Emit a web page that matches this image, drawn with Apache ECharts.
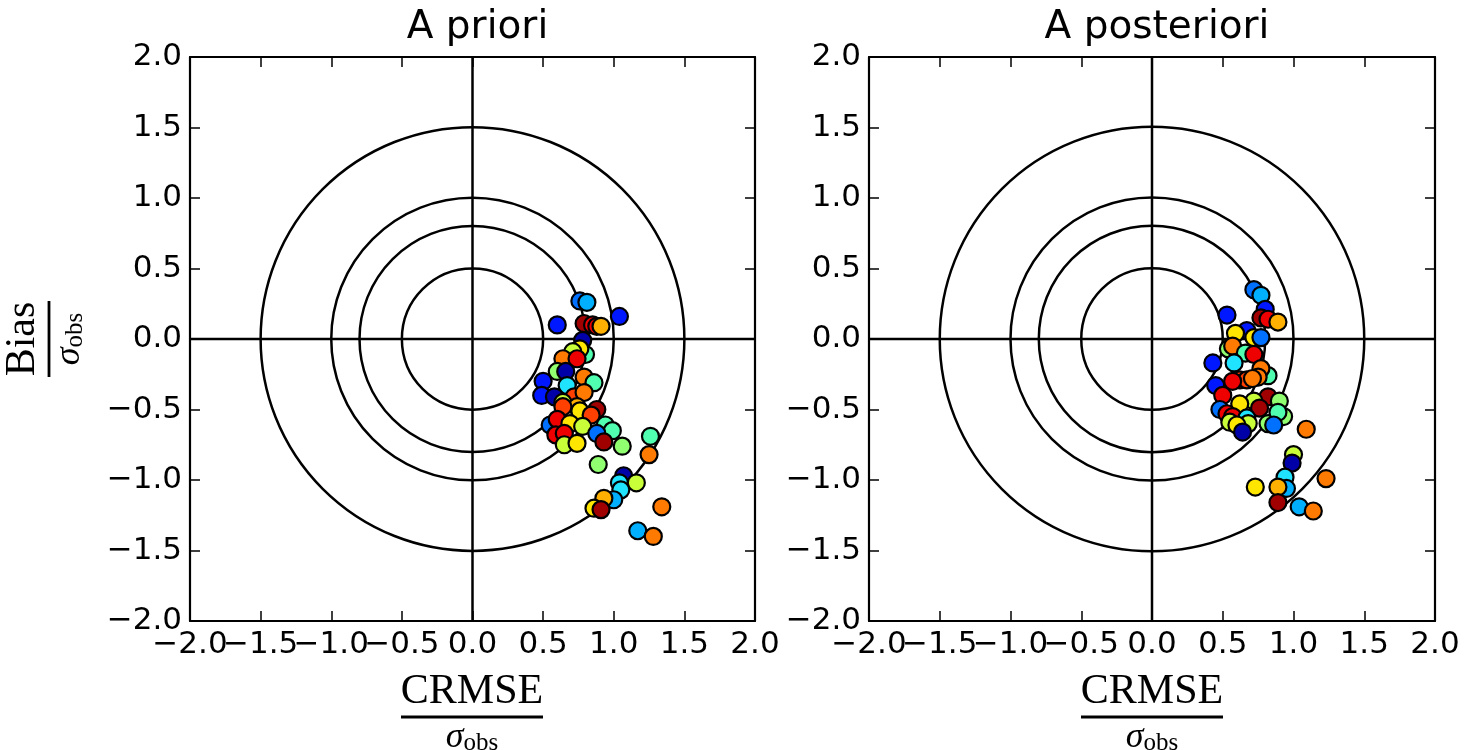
<!DOCTYPE html>
<html>
<head>
<meta charset="utf-8">
<script src="https://cdn.jsdelivr.net/npm/echarts@6/dist/echarts.min.js"></script>
<style>
  html, body { margin: 0; padding: 0; background: #fff; }
  #main { width: 1464px; height: 750px; }
</style>
</head>
<body>
<div id="main"></div>
<script>
// panel titles
var panelTitles = ['A priori', 'A posteriori'];
// axis ticks
var tickMin = -2, tickMax = 2, tickStep = 0.5;
// reference circles (radius in units of sigma_obs)
var circleRadii = [0.5, 0.8, 1.0, 1.5];
// jet-like colours used by the markers
var markerColors = ['#0000a8', '#0018ff', '#0070ff', '#00b0ff', '#20e4ff', '#50ffb0', '#90ff70',
  '#c8ff38', '#ffe600', '#ffb000', '#ff7a00', '#ff4000', '#ee0000', '#a00000'];

// [CRMSE/sigma, Bias/sigma, colour index]
var prioriPoints = [
  [0.60, 0.10, 1], [0.76, 0.27, 2], [0.81, 0.26, 3], [1.04, 0.16, 1],
  [0.79, 0.11, 13], [0.85, 0.10, 12], [0.88, 0.09, 12], [0.91, 0.09, 9],
  [0.78, -0.01, 0], [0.80, -0.11, 5], [0.76, -0.07, 8], [0.71, -0.09, 7],
  [0.64, -0.14, 10], [0.74, -0.14, 12], [0.60, -0.23, 6], [0.66, -0.23, 0],
  [0.79, -0.27, 10], [0.86, -0.31, 5], [0.50, -0.30, 1], [0.67, -0.33, 4],
  [0.49, -0.40, 1], [0.58, -0.41, 0], [0.72, -0.41, 11], [0.79, -0.38, 10],
  [0.64, -0.45, 7], [0.74, -0.48, 9], [0.64, -0.48, 11], [0.76, -0.51, 8],
  [0.88, -0.50, 13], [0.84, -0.54, 11], [0.55, -0.61, 2], [0.60, -0.57, 12],
  [0.69, -0.60, 8], [0.78, -0.62, 7], [0.94, -0.61, 5], [0.99, -0.65, 5],
  [0.88, -0.67, 2], [0.59, -0.68, 12], [0.65, -0.67, 12], [0.65, -0.75, 7],
  [0.74, -0.74, 8], [0.93, -0.73, 13], [1.06, -0.76, 6], [1.26, -0.69, 5],
  [1.25, -0.82, 10], [0.89, -0.89, 6], [1.07, -0.97, 0], [1.04, -1.02, 4],
  [1.16, -1.02, 7], [1.05, -1.07, 4], [1.00, -1.14, 3], [0.93, -1.13, 9],
  [0.86, -1.20, 8], [0.91, -1.21, 13], [1.34, -1.19, 10], [1.17, -1.36, 3],
  [1.28, -1.40, 10]
];
var posterioriPoints = [
  [0.72, 0.35, 2], [0.77, 0.31, 3], [0.53, 0.17, 1], [0.80, 0.21, 1],
  [0.77, 0.15, 13], [0.82, 0.14, 12], [0.89, 0.12, 9], [0.67, 0.06, 1],
  [0.59, 0.04, 8], [0.72, 0.01, 8], [0.77, 0.01, 2], [0.54, -0.07, 6],
  [0.57, -0.05, 10], [0.66, -0.10, 5], [0.72, -0.11, 12], [0.43, -0.17, 1],
  [0.58, -0.17, 4], [0.82, -0.26, 5], [0.77, -0.21, 10], [0.75, -0.27, 10],
  [0.62, -0.29, 11], [0.67, -0.29, 11], [0.71, -0.28, 10], [0.57, -0.30, 12],
  [0.45, -0.33, 1], [0.50, -0.40, 12], [0.82, -0.41, 13], [0.90, -0.44, 6],
  [0.72, -0.44, 7], [0.62, -0.46, 8], [0.48, -0.50, 2], [0.53, -0.53, 12],
  [0.76, -0.49, 13], [0.57, -0.55, 12], [0.67, -0.56, 4], [0.55, -0.59, 7],
  [0.68, -0.60, 7], [0.60, -0.61, 8], [0.82, -0.60, 6], [0.93, -0.55, 6],
  [0.89, -0.52, 5], [0.86, -0.61, 2], [0.64, -0.66, 0], [1.09, -0.64, 10],
  [1.00, -0.82, 7], [0.99, -0.88, 0], [0.94, -0.98, 4], [0.95, -1.06, 3],
  [0.73, -1.05, 8], [0.89, -1.05, 9], [0.89, -1.16, 13], [1.04, -1.19, 3],
  [1.14, -1.22, 10], [1.23, -0.99, 10]
];

var myChart = echarts.init(document.getElementById('main'));

var sansFont = 'DejaVu Sans';
var grids = [
  { left: 190, top: 57, width: 565, height: 564 },
  { left: 869, top: 57, width: 566, height: 564 }
];

function fmt(v) {
  return v.toFixed(1).replace('-', '\u2212');
}
// the x labels touch each other, so they are split over two stacked axes
// (whole values on one, halves on the other) to keep ECharts from dropping any
function fmtWhole(v) { return Math.abs(v % 1) < 1e-9 ? fmt(v) : ''; }
function fmtHalf(v) { return Math.abs(v % 1) < 1e-9 ? '' : fmt(v); }

function makeAxis(gridIndex, position, labelFmt, bare) {
  return {
    type: 'value',
    gridIndex: gridIndex,
    position: position,
    offset: 0,
    min: tickMin, max: tickMax, interval: tickStep,
    axisLine: { show: !bare, onZero: false, lineStyle: { color: '#000', width: 2.2 } },
    axisTick: { show: !bare, inside: true, length: 10, lineStyle: { color: '#000', width: 1.5 } },
    splitLine: { show: false },
    axisLabel: {
      show: !!labelFmt, formatter: labelFmt || fmt, color: '#000',
      showMinLabel: true, showMaxLabel: true, hideOverlap: false,
      fontFamily: sansFont, fontSize: 31, margin: 8
    }
  };
}

var xAxes = [], yAxes = [], series = [];
grids.forEach(function (g, i) {
  xAxes.push(makeAxis(i, 'bottom', fmtWhole), makeAxis(i, 'top', null), makeAxis(i, 'bottom', fmtHalf, true));
  yAxes.push(makeAxis(i, 'left', fmt), makeAxis(i, 'right', null));
  // circles + cross lines
  series.push({
    type: 'custom',
    xAxisIndex: i * 3, yAxisIndex: i * 2,
    silent: true, z: 1,
    data: circleRadii.map(function (r) { return [r, 0]; }),
    renderItem: function (params, api) {
      var c = api.coord([0, 0]);
      var s = api.size([api.value(0), api.value(0)]);
      var children = [{
        type: 'circle',
        shape: { cx: c[0], cy: c[1], r: s[0] },
        style: { fill: null, stroke: '#000', lineWidth: 2.5 }
      }];
      if (params.dataIndex === 0) {
        var l = api.coord([tickMin, 0]), r = api.coord([tickMax, 0]);
        var t = api.coord([0, tickMax]), b = api.coord([0, tickMin]);
        children.push(
          { type: 'line', shape: { x1: l[0], y1: l[1], x2: r[0], y2: r[1] }, style: { stroke: '#000', lineWidth: 2.5 } },
          { type: 'line', shape: { x1: t[0], y1: t[1], x2: b[0], y2: b[1] }, style: { stroke: '#000', lineWidth: 2.5 } }
        );
      }
      return { type: 'group', children: children };
    }
  });
  series.push({
    type: 'scatter',
    xAxisIndex: i * 3, yAxisIndex: i * 2,
    z: 3,
    symbolSize: 17,
    data: i === 0 ? prioriPoints : posterioriPoints,
    itemStyle: {
      borderColor: '#000', borderWidth: 2.2, opacity: 1,
      color: function (p) { return markerColors[p.data[2]]; }
    }
  });
});

function sigmaObs(x, y) {
  return { type: 'text', x: x, y: y, style: {
    text: '{s|\u03c3}{o|obs}', align: 'center', verticalAlign: 'top', fill: '#000',
    rich: { s: { font: 'italic 36px "Liberation Serif"', fill: '#000' }, o: { font: '25px "Liberation Serif"', fill: '#000', padding: [12, 0, 0, 0] } }
  } };
}

function xFraction(cx) {
  return {
    type: 'group', x: cx - 71, y: 671,
    children: [
      { type: 'text', x: 71, y: 0, style: { text: 'CRMSE', font: '42px "Liberation Serif"', fill: '#000', align: 'center', verticalAlign: 'top' } },
      { type: 'line', shape: { x1: 0, y1: 46, x2: 142, y2: 46 }, style: { stroke: '#000', lineWidth: 2.8 } },
      sigmaObs(71, 48)
    ]
  };
}

var option = {
  backgroundColor: '#fff',
  animation: false,
  title: panelTitles.map(function (t, i) {
    return {
      text: t, left: grids[i].left + grids[i].width / 2, top: 3, textAlign: 'center',
      textStyle: { fontFamily: sansFont, fontSize: 39, fontWeight: 'normal', color: '#000' }
    };
  }),
  grid: grids,
  xAxis: xAxes,
  yAxis: yAxes,
  series: series,
  graphic: [
    xFraction(472),
    xFraction(1152),
    {
      type: 'group', x: 49, y: 339, rotation: Math.PI / 2,
      children: [
        { type: 'text', x: 0, y: -5, style: { text: 'Bias', font: '42px "Liberation Serif"', fill: '#000', align: 'center', verticalAlign: 'bottom' } },
        { type: 'line', shape: { x1: -38, y1: 0, x2: 38, y2: 0 }, style: { stroke: '#000', lineWidth: 2.8 } },
        sigmaObs(0, 2)
      ]
    }
  ]
};
myChart.setOption(option);
</script>
</body>
</html>
